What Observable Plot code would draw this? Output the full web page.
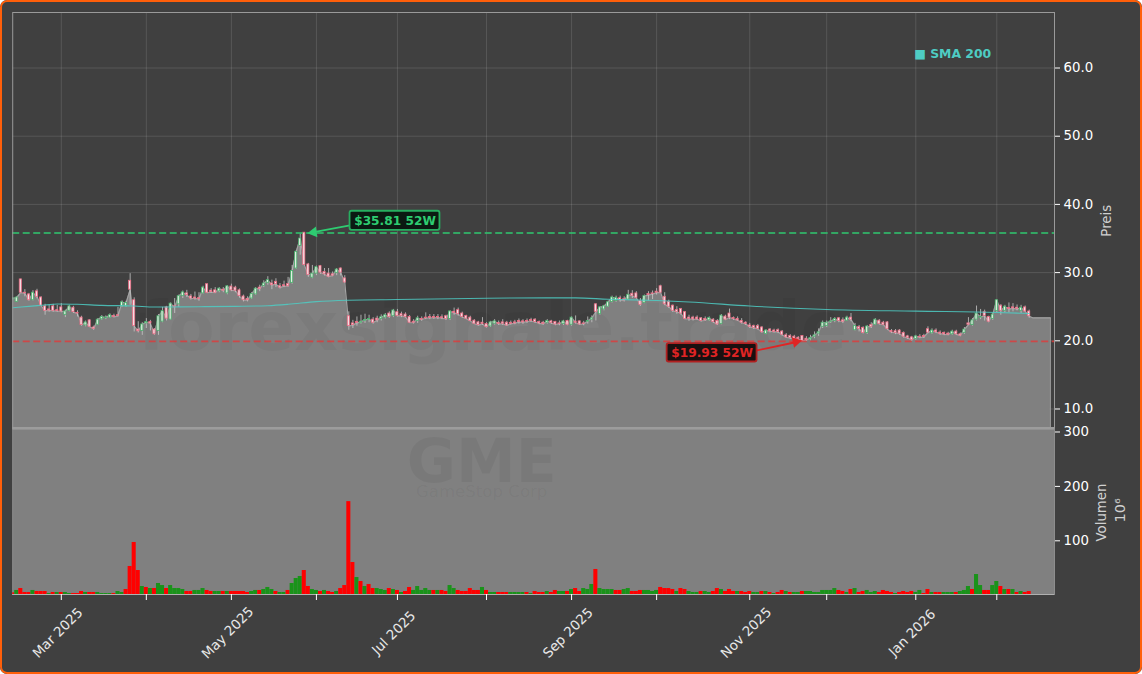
<!DOCTYPE html>
<html><head><meta charset="utf-8">
<script src="https://cdn.jsdelivr.net/npm/d3@7"></script>
<script src="https://cdn.jsdelivr.net/npm/@observablehq/plot@0.6"></script>
<style>
html,body{margin:0;padding:0;background:#fff}
#wrap{position:relative;width:1142px;height:674px;background:#404040;overflow:hidden;border-radius:7px}
#wrap svg{position:absolute;left:0;background:transparent;overflow:visible}
#edge{position:absolute;inset:0;border:2.5px solid #ff5f0a;border-radius:7px;box-sizing:border-box;pointer-events:none}
</style></head><body>
<div id="wrap"><div id="edge"></div></div>
<script>
const opens=[26.05,25.7,29.0,27.05,26.8,25.95,27.25,26.35,25.05,24.6,
25.05,24.5,24.9,23.8,24.4,24.85,24.1,23.4,22.25,23.0,
21.95,22.35,23.15,23.3,23.4,23.65,23.75,25.05,25.05,28.8,
25.95,21.65,21.45,22.55,22.75,21.65,21.45,22.8,24.9,23.1,
25.05,25.35,26.55,26.95,26.5,26.35,26.25,26.95,28.3,27.35,
27.4,27.25,27.5,26.95,27.95,27.8,27.4,26.5,26.15,26.2,
26.8,27.8,28.05,28.5,28.4,28.65,28.0,28.15,28.3,28.5,
30.6,33.9,35.85,31.2,29.25,29.85,30.95,30.1,29.85,29.75,
29.95,30.6,29.15,23.6,22.55,22.75,22.65,22.9,23.1,23.1,
23.25,23.2,23.4,24.0,23.6,24.2,23.9,23.85,23.5,22.8,
22.9,23.2,23.4,23.5,23.5,23.5,23.45,23.6,23.2,24.25,
24.5,24.0,23.65,23.4,22.95,22.7,22.65,22.45,22.1,22.5,
22.6,22.7,22.65,22.6,22.7,22.9,22.85,22.9,23.05,23.1,
22.75,22.65,22.65,22.85,22.75,22.55,22.45,22.9,22.35,22.8,
22.85,22.55,22.8,23.1,25.35,23.9,24.6,25.0,25.7,25.85,
26.25,26.1,26.05,26.9,26.95,25.85,25.55,26.85,26.95,27.2,
28.0,26.45,25.7,25.15,24.5,24.65,24.2,23.4,23.4,23.4,
23.3,23.2,23.0,23.1,22.9,22.45,23.55,24.0,23.35,23.2,
22.9,22.65,22.25,22.15,22.15,21.95,21.0,21.65,21.5,21.55,
21.35,20.8,20.7,20.6,20.45,20.7,20.3,20.2,20.6,21.05,
22.05,22.15,22.75,22.9,23.3,23.0,22.95,23.4,21.55,22.0,
21.9,21.15,22.3,22.35,22.95,22.65,22.7,21.45,21.4,21.5,
21.15,20.65,20.5,20.25,20.6,20.7,21.7,21.1,21.5,21.2,
21.15,21.05,20.95,21.35,20.95,21.15,22.55,22.3,23.1,23.4,
24.2,23.5,23.2,24.35,25.15,24.4,24.8,24.9,24.85,24.4,
24.9,24.3];
const closes=[26.2,26.35,27.05,26.95,25.95,27.05,26.45,25.15,24.4,24.45,
24.4,24.35,24.3,24.3,25.05,24.2,24.0,22.3,22.7,22.05,
21.75,23.1,23.5,23.4,23.75,23.5,23.65,25.65,25.55,27.5,
22.15,21.4,22.4,22.75,22.55,20.95,23.6,24.35,23.25,25.45,
24.9,26.55,27.1,26.7,26.2,26.2,26.1,27.8,27.05,27.15,
27.05,27.65,27.35,28.0,27.4,27.35,26.55,25.95,25.95,26.85,
27.65,27.6,28.4,28.9,28.15,28.3,27.8,28.0,28.0,30.25,
33.05,35.0,31.1,29.65,29.85,30.8,30.0,29.75,29.4,29.55,
30.45,30.0,28.55,22.15,22.3,22.6,22.8,23.05,23.2,22.65,
23.0,23.45,23.75,23.5,24.45,23.65,23.65,23.5,22.65,22.65,
23.3,23.1,23.3,23.35,23.35,23.4,23.3,23.2,24.3,24.1,
23.9,23.5,23.25,22.9,22.5,22.3,22.45,22.0,22.7,22.85,
22.45,22.5,22.25,22.5,22.55,22.75,22.7,22.8,22.9,22.75,
22.55,22.45,22.9,22.6,22.4,22.45,22.85,22.35,23.4,22.65,
22.4,22.45,22.9,23.3,24.25,24.9,25.05,25.65,26.35,26.3,
25.95,25.9,26.75,26.6,26.3,25.25,26.55,26.7,26.85,27.05,
27.05,25.35,25.0,24.4,24.25,24.0,23.2,23.2,23.15,23.15,
22.9,23.0,23.35,22.75,22.4,23.7,23.1,23.4,23.2,23.0,
22.65,22.45,22.05,21.9,21.75,21.25,21.5,21.4,21.3,21.3,
20.9,20.5,20.4,20.3,20.25,20.0,20.1,20.4,20.8,21.25,
22.65,22.65,22.85,23.2,22.9,22.8,23.4,23.1,22.15,21.75,
21.15,22.1,22.05,23.1,22.45,22.35,21.7,21.25,21.15,21.05,
20.6,20.4,20.1,20.65,20.5,20.55,21.2,21.5,21.25,21.05,
20.95,20.9,21.35,20.95,20.75,21.65,22.35,23.0,24.0,23.5,
23.65,22.8,23.85,25.95,24.4,25.0,24.65,24.75,24.65,24.85,
24.3,23.6];
const highs=[26.35,26.45,29.05,27.5,26.95,27.35,27.55,26.45,25.35,25.2,
25.35,25.2,25.45,24.5,25.2,25.05,24.4,23.6,22.9,23.1,
22.15,23.25,23.7,23.65,23.95,23.9,24.9,25.85,25.8,29.85,
26.3,22.8,22.65,23.25,23.0,21.8,23.85,24.9,25.05,25.55,
26.2,26.7,27.3,27.4,26.8,27.15,27.05,28.0,28.3,27.65,
27.8,27.8,27.8,28.05,28.3,28.0,27.6,26.7,26.45,27.05,
27.8,28.15,28.8,29.4,28.9,29.1,28.4,28.75,29.3,31.05,
33.2,35.75,35.85,31.35,31.05,30.95,31.05,30.6,30.6,30.1,
30.6,30.7,29.55,24.25,23.0,23.5,23.75,23.9,23.75,23.4,
23.6,23.8,24.0,24.25,24.6,24.6,24.2,24.1,23.7,23.1,
23.6,23.5,24.1,23.85,23.85,23.85,23.8,23.75,24.4,24.8,
24.8,24.2,23.75,23.6,23.1,22.85,23.4,22.65,22.85,23.1,
22.9,23.1,22.85,22.9,23.0,23.2,23.1,23.2,23.3,23.25,
22.9,22.85,23.1,23.0,22.85,22.9,23.0,23.0,23.5,23.65,
22.9,22.85,23.5,23.65,25.45,25.0,25.2,25.8,26.55,26.55,
26.55,26.45,27.4,27.35,27.2,26.2,26.7,27.2,27.3,27.65,
28.15,27.05,25.95,25.25,25.0,24.75,24.3,23.75,23.6,23.65,
23.4,23.5,23.5,23.25,23.1,23.85,23.75,24.65,23.5,23.5,
23.25,22.8,22.55,22.3,22.4,22.1,21.65,21.8,21.7,21.75,
21.5,21.05,20.9,20.8,20.6,20.75,20.6,20.8,21.3,21.75,
22.9,22.9,23.4,23.4,23.4,23.35,23.6,24.0,22.55,22.25,
22.05,22.25,22.65,23.25,23.1,22.85,22.8,21.65,21.65,21.65,
21.3,20.8,20.65,20.8,20.9,20.95,22.05,21.75,21.75,21.45,
21.3,21.25,21.55,21.55,21.15,21.95,23.4,23.25,25.1,24.6,
24.5,23.6,24.0,26.05,25.3,25.2,25.55,25.45,25.25,25.2,
25.1,24.5];
const lows=[25.95,25.65,26.95,26.45,25.85,25.85,26.15,25.05,23.75,24.2,
24.2,24.2,24.1,23.4,24.25,24.0,23.5,22.15,22.05,21.95,
21.55,22.25,23.0,23.1,23.3,23.4,23.5,24.9,24.9,25.2,
21.3,21.15,20.8,21.8,21.45,20.85,20.8,22.65,22.9,23.0,
24.0,24.9,26.2,26.35,25.95,25.95,25.8,26.85,26.95,26.95,
26.95,27.05,27.05,26.75,27.2,27.05,26.25,25.7,25.7,26.05,
26.65,27.2,27.8,28.15,27.5,27.8,27.6,27.8,27.9,28.3,
30.45,32.55,31.0,29.3,29.1,29.55,29.75,29.5,29.25,29.4,
29.55,29.5,28.4,21.55,21.8,22.15,22.45,22.55,22.65,22.45,
22.65,22.9,23.2,23.3,23.4,23.5,23.4,23.35,22.55,22.45,
22.55,22.85,23.1,23.1,23.15,23.1,23.1,23.0,23.0,23.75,
23.6,23.3,23.1,22.8,22.4,22.15,22.25,21.9,21.95,22.3,
22.25,22.25,22.15,22.3,22.35,22.45,22.4,22.55,22.7,22.55,
22.35,22.3,22.45,22.4,22.2,22.2,22.25,22.25,22.15,22.45,
22.25,22.2,22.45,22.65,22.9,23.75,24.4,24.9,25.55,25.65,
25.65,25.7,25.95,26.2,26.15,25.05,25.45,25.85,26.05,26.7,
26.95,25.15,24.75,24.15,23.9,23.75,23.1,22.85,22.9,23.0,
22.75,22.85,22.85,22.55,22.25,22.35,23.0,23.1,23.0,22.85,
22.45,22.25,21.8,21.65,21.6,21.15,20.9,21.15,21.15,21.05,
20.7,20.35,20.2,20.1,20.0,19.9,19.9,20.0,20.3,20.65,
21.8,21.95,22.55,22.65,22.65,22.55,22.9,22.8,21.45,21.3,
21.05,20.95,21.8,22.25,22.35,22.25,21.55,21.05,20.9,20.8,
20.4,20.2,19.95,20.1,20.3,20.35,21.05,20.95,21.05,20.8,
20.75,20.75,20.8,20.8,20.6,20.95,22.25,22.15,22.9,23.1,
22.9,22.65,23.0,24.15,23.75,24.1,24.1,24.25,24.4,24.0,
24.2,23.3];
const volumes=[4.3,8.7,12.3,5,5,8.7,6.8,6.8,6.8,3.1,
5,5,5,5,3.1,3.1,3.1,6.8,5,5,
5,5,3.1,3.1,3.1,3.1,6.8,5,10.5,52.8,
96.9,45.4,16,14.2,12.3,12.3,21.5,17.8,12.3,17.8,
12.3,12.3,10.5,6.8,6.8,8.7,8.7,12.3,8.7,6.8,
6.8,6.8,6.8,6.8,6.8,6.8,6.8,6.8,5,6.8,
8.7,8.7,10.5,14.2,10.5,6.8,5,5,8.7,21.5,
30.7,34.4,45.4,16,10.5,8.7,6.8,8.7,6.8,5,
6.8,12.3,17.8,172,60.1,32.5,25.2,16,19.7,12.3,
12.3,10.5,8.7,12.3,10.5,8.7,5,6.8,14.2,8.7,
16,8.7,12.3,8.7,8.7,8.7,8.7,6.8,17.8,12.3,
8.7,6.8,6.8,12.3,8.7,8.7,14.2,8.7,5,5,
5,5,5,5,5,5,5,5,3.1,6.8,
5,5,6.8,5,8.7,6.8,6.8,6.8,10.5,12.3,
6.8,12.3,10.5,19.7,47.3,12.3,10.5,10.5,10.5,8.7,
8.7,10.5,12.3,6.8,6.8,8.7,8.7,8.7,6.8,8.7,
14.2,12.3,12.3,10.5,6.8,12.3,10.5,6.8,5,5,
6.8,6.8,5,6.8,12.3,10.5,6.8,10.5,6.8,6.8,
6.8,5,6.8,5,5,6.8,6.8,5,3.1,5,
8.7,6.8,5,5,5,6.8,6.8,6.8,5,5,
8.7,8.7,8.7,12.3,8.7,6.8,5,10.5,12.3,5,
6.8,8.7,5,6.8,5,8.7,6.8,5,3.1,5,
6.8,5,6.8,5,8.7,3.1,10.5,5,5,5,
5,5,5,5,6.8,8.7,16,10.5,38,17.8,
8.7,8.7,17.8,25.2,16,10.5,10.5,10.5,5,6.8,
5,6.8];
const volumeSides=["rgrrrgrrrg","rgrggrrrgr","rggggrggrr","rrgrgrggrg","gggrrgggrr",
"ggrgrrrrrg","grgggrggrg","ggrrggrgrr","grrrrgrgrr","gggrgrgrrg",
"ggggrgrrgg","rrrrrrgrgg","rrrggggrgr","rrgrrggrgr","rgggrggggr",
"rggrrrgggg","rrrrgrrggg","rggrrgrrrg","rrrggrgrgr","rgrggrgggg",
"ggggrrgrgr","rgggrrrrgr","rrrggrrgrr","gggrgggrgg","rrggrgrgrgrr"].join("");
const tailIndex=[252,256.2];
const tailPrice=[23.35,23.35];
const smaIndex=[0,4,8,11,16,22,30,35,46,55,63,68,75,83,95,117,132,139,147,159,167,182,201,223,243,251];
const smaValues=[24.85,25.05,25.25,25.4,25.35,25.2,25.1,24.95,25.0,25.05,25.15,25.35,25.75,25.95,26.05,26.25,26.3,26.3,26.1,25.9,25.7,25.1,24.6,24.35,24.15,24.0];
const monthTicks=[12,33,54,75,95,117,138,159,182,201,223,243];
const labelTicks=[12,54,95,138,182,223];
const labelNames=["Mar 2025","May 2025","Jul 2025","Sep 2025","Nov 2025","Jan 2026"];
const priceTicks=[10,20,30,40,50,60];
const volumeTicks=[100,200,300];
const high52=35.81, low52=19.93;

const font="'DejaVu Sans'";
const candles=closes.map((c,i)=>({i,o:opens[i],c,h:highs[i],l:lows[i],up:c>=opens[i]}));
const line=candles.map(d=>({i:d.i,v:d.c})).concat(tailIndex.map((i,k)=>({i,v:tailPrice[k]})));
const sma=smaIndex.map((i,k)=>({i,v:smaValues[k]}));
const vols=volumes.map((v,i)=>({i,v,g:volumeSides[i]==="g"}));
const xDomain=[0,257.25];
const priceMin=7.14, volMin=1.3;
const hiBox=[{x1:83.3,x2:105.5,y1:36.2,y2:39}], loBox=[{x1:161.6,x2:183.8,y1:16.89,y2:19.59}];
const hiArrow=[{x1:83.3,y1:36.94,x2:75,y2:36.0}], loArrow=[{x1:183.8,y1:18.6,x2:193,y2:19.75}];
const hiHead=[{x:74.3,y:35.9,a:-98}], loHead=[{x:193.4,y:19.85,a:77}];

const pricePlot=Plot.plot({width:1142,height:428,marginTop:12,marginBottom:0,marginLeft:12.2,marginRight:88,
  style:{background:"transparent",fontFamily:font,fontSize:"13.3px"},
  x:{domain:xDomain,axis:null},
  y:{domain:[priceMin,68.14],axis:null},
  marks:[
    Plot.gridY(priceTicks,{stroke:"#fff",strokeOpacity:0.12,strokeWidth:1}),
    Plot.gridX(monthTicks,{stroke:"#fff",strokeOpacity:0.12,strokeWidth:1}),
    Plot.areaY(line,{x:"i",y1:priceMin,y2:"v",fill:"#808080"}),
    Plot.lineY(line,{x:"i",y:"v",stroke:"#a2a2a2",strokeWidth:1.2}),
    Plot.ruleX([tailIndex[1]],{y1:priceMin,y2:tailPrice[1],stroke:"#a2a2a2",strokeWidth:1.2}),
    Plot.text(["forexsignale.trade"],{x:118.5,y:21.8,text:d=>d,fontSize:68,fontWeight:"bold",fill:"#000",fillOpacity:0.04}),
    Plot.ruleX(candles,{x:"i",y1:"l",y2:"h",stroke:"#c8c8c8",strokeWidth:0.8,clip:true}),
    Plot.rect(candles,{x1:d=>d.i-0.26,x2:d=>d.i+0.26,y1:d=>Math.min(d.o,d.c),y2:d=>Math.max(d.o,d.c),
      fill:d=>d.up?"#e4ede4":"#f4e2e6",stroke:d=>d.up?"#46b06a":"#ea6a82",strokeWidth:0.8,clip:true}),
    Plot.line(sma,{x:"i",y:"v",stroke:"#4ecdc4",strokeWidth:1.1,strokeOpacity:0.85,curve:"monotone-x"}),
    Plot.ruleY([high52],{stroke:"#2fbf6b",strokeOpacity:0.8,strokeWidth:1.8,strokeDasharray:"7,3.5"}),
    Plot.ruleY([low52],{stroke:"#e03a3a",strokeOpacity:0.8,strokeWidth:1.8,strokeDasharray:"7,3.5"}),
    Plot.arrow(hiArrow,{x1:"x1",y1:"y1",x2:"x2",y2:"y2",bend:0,stroke:"#2ecc71",strokeWidth:1.8,headLength:0}),
    Plot.arrow(loArrow,{x1:"x1",y1:"y1",x2:"x2",y2:"y2",bend:0,stroke:"#e02424",strokeWidth:1.8,headLength:0}),
    Plot.dot(hiHead,{x:"x",y:"y",symbol:"triangle",rotate:"a",r:4,fill:"#2ecc71",stroke:"none"}),
    Plot.dot(loHead,{x:"x",y:"y",symbol:"triangle",rotate:"a",r:4,fill:"#e02424",stroke:"none"}),
    Plot.rect(hiBox,{x1:"x1",x2:"x2",y1:"y1",y2:"y2",fill:"#0b1a12",stroke:"#27ae60",strokeWidth:1.8,rx:2}),
    Plot.rect(loBox,{x1:"x1",x2:"x2",y1:"y1",y2:"y2",fill:"#1a1010",stroke:"#b02020",strokeWidth:1.8,rx:2}),
    Plot.text(["$35.81 52W"],{x:94.4,y:37.6,text:d=>d,fill:"#2ecc71",fontWeight:"bold",fontSize:12.2}),
    Plot.text(["$19.93 52W"],{x:172.7,y:18.24,text:d=>d,fill:"#e02424",fontWeight:"bold",fontSize:12.2}),
    Plot.text(["■ SMA 200"],{x:222.6,y:62,text:d=>d,fill:"#4ecdc4",fontWeight:"bold",fontSize:12.4,textAnchor:"start"}),
    Plot.frame({stroke:"#9a9a9a",strokeWidth:1}),
    Plot.axisY({anchor:"right",ticks:priceTicks,tickFormat:d3.format(".1f"),tickSize:5,tickPadding:4,label:null,stroke:"#fff",color:"#fff",fill:"#fff",fontSize:13.3}),
    Plot.text(["Preis"],{x:xDomain[1],y:37.6,text:d=>d,rotate:-90,dx:52,fill:"#d0d0d0",fontSize:13.3})
  ]});
pricePlot.style.top="0px";

const volumePlot=Plot.plot({width:1142,height:246,marginTop:0.5,marginBottom:80,marginLeft:12.2,marginRight:88,
  style:{background:"transparent",fontFamily:font,fontSize:"13.3px"},
  x:{domain:xDomain,axis:null},
  y:{domain:[volMin,305.5],axis:null},
  marks:[
    Plot.frame({fill:"#808080",stroke:"#8e8e8e"}),
    Plot.ruleY([305.5],{stroke:"#9c9c9c",strokeWidth:2.6,dy:-0.7}),
    Plot.text(["GME"],{x:115.8,y:244,text:d=>d,fontSize:60,fontWeight:"bold",fill:"#000",fillOpacity:0.055}),
    Plot.text(["GameStop Corp"],{x:115.8,y:191,text:d=>d,fontSize:16.6,fill:"#000",fillOpacity:0.055}),
    Plot.rect(vols,{x1:d=>d.i-0.5,x2:d=>d.i+0.5,y1:volMin,y2:"v",fill:d=>d.g?"#1a931a":"#ff0000",clip:true}),
    Plot.ruleY([volMin],{stroke:"#b0b0b0",strokeWidth:1}),
    Plot.axisX({ticks:monthTicks,tickSize:6,tickFormat:()=>"",label:null,stroke:"#fff"}),
    Plot.text(labelTicks,{x:d=>d,text:(d,k)=>labelNames[k],frameAnchor:"bottom",rotate:-45,dy:41.5,dx:-0.5,fill:"#e8e8e8",fontSize:13.5}),
    Plot.axisY({anchor:"right",ticks:volumeTicks,tickSize:5,tickPadding:4,label:null,stroke:"#fff",color:"#fff",fill:"#fff",fontSize:13.3}),
    Plot.text(["Volumen"],{x:xDomain[1],y:152,text:d=>d,rotate:-90,dx:47,fill:"#d0d0d0",fontSize:13.3}),
    Plot.text(["10⁶"],{x:xDomain[1],y:156,text:d=>d,rotate:-90,dx:66,fill:"#d0d0d0",fontSize:14.5})
  ]});
volumePlot.style.top="428px";

const wrap=document.getElementById("wrap");
wrap.insertBefore(volumePlot,wrap.firstChild);
wrap.insertBefore(pricePlot,volumePlot);
</script>
</body></html>
